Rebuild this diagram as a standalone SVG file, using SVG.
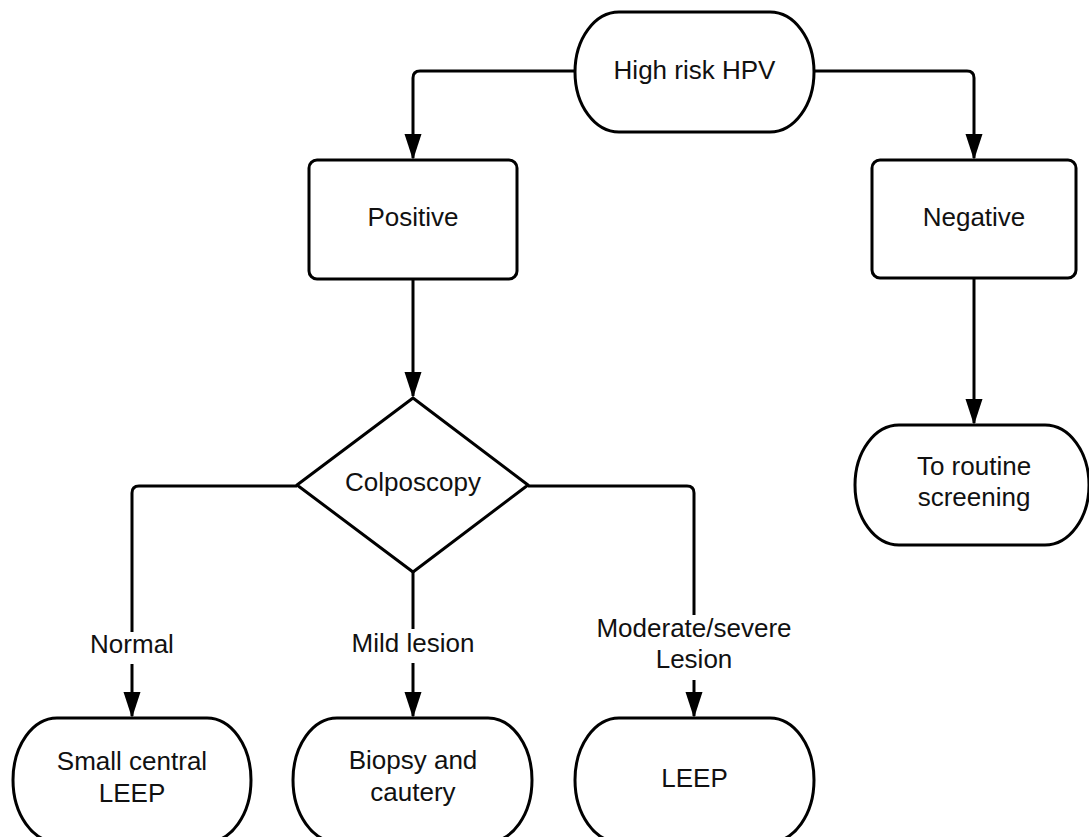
<svg xmlns="http://www.w3.org/2000/svg" width="1089" height="837" viewBox="0 0 1089 837">
  <defs>
    <marker id="arrow" markerUnits="userSpaceOnUse" markerWidth="26" markerHeight="18" viewBox="0 0 26 18" refX="24" refY="9" orient="auto">
      <path d="M0,0.5 L26,9 L0,17.5 z" fill="#000"/>
    </marker>
    <style>
      .shape { fill: #fff; stroke: #000; stroke-width: 3; }
      .conn { fill: none; stroke: #000; stroke-width: 3; }
      text { font-family: "Liberation Sans", Arial, sans-serif; font-size: 26px; fill: #111; text-anchor: middle; }
    </style>
  </defs>
  <rect width="1089" height="837" fill="#fff"/>

  <g id="connectors">
    <path class="conn" d="M575,71 H420 Q413,71 413,78 V158" marker-end="url(#arrow)"/>
    <path class="conn" d="M814,71 H967 Q974,71 974,78 V158" marker-end="url(#arrow)"/>
    <path class="conn" d="M413,279 V396" marker-end="url(#arrow)"/>
    <path class="conn" d="M974,278 V423" marker-end="url(#arrow)"/>
    <path class="conn" d="M297,486 H139 Q132,486 132,493 V632"/>
    <path class="conn" d="M132,664 V716" marker-end="url(#arrow)"/>
    <path class="conn" d="M413,572 V629"/>
    <path class="conn" d="M413,663 V716" marker-end="url(#arrow)"/>
    <path class="conn" d="M528,486 H687 Q694,486 694,493 V615"/>
    <path class="conn" d="M694,680 V716" marker-end="url(#arrow)"/>
    <text x="132" y="653">Normal</text>
    <text x="413" y="652">Mild lesion</text>
    <text x="694" y="637">Moderate/severe</text>
    <text x="694" y="668">Lesion</text>
  </g>

  <g id="high-risk-hpv">
    <rect class="shape" x="575" y="12" width="239" height="120" rx="44" ry="60"/>
    <text x="694.5" y="79">High risk HPV</text>
  </g>

  <g id="positive">
    <rect class="shape" x="309" y="160" width="208" height="119" rx="8" ry="8"/>
    <text x="413" y="226">Positive</text>
  </g>

  <g id="negative">
    <rect class="shape" x="872" y="160" width="204" height="118" rx="8" ry="8"/>
    <text x="974" y="226">Negative</text>
  </g>

  <g id="routine-screening">
    <rect class="shape" x="855" y="425" width="234" height="120" rx="44" ry="60"/>
    <text x="974" y="475">To routine</text>
    <text x="974" y="506">screening</text>
  </g>

  <g id="colposcopy">
    <polygon class="shape" points="413,398 528,485 413,572 297,485" stroke-linejoin="round"/>
    <text x="413" y="491">Colposcopy</text>
  </g>

  <g id="small-central-leep">
    <rect class="shape" x="13" y="718" width="238" height="124" rx="44" ry="62"/>
    <text x="132" y="770">Small central</text>
    <text x="132" y="802">LEEP</text>
  </g>

  <g id="biopsy-cautery">
    <rect class="shape" x="293" y="718" width="239" height="124" rx="44" ry="62"/>
    <text x="413" y="769">Biopsy and</text>
    <text x="413" y="801">cautery</text>
  </g>

  <g id="leep">
    <rect class="shape" x="575" y="718" width="239" height="124" rx="44" ry="62"/>
    <text x="694.5" y="787">LEEP</text>
  </g>
</svg>
